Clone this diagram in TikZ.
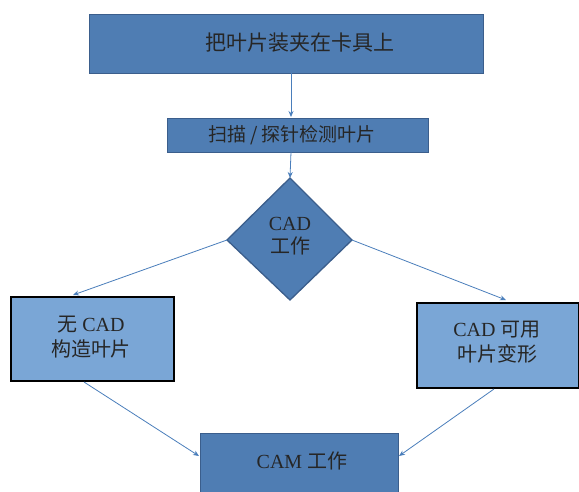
\documentclass[tikz,border=0pt]{standalone}
\usepackage{fontspec}
\setmainfont{Liberation Serif}
\newfontfamily\cjk{Noto Sans CJK SC}
\usetikzlibrary{arrows.meta}
\definecolor{darkfill}{HTML}{4F7DB3}
\definecolor{darkline}{HTML}{3B5E8C}
\definecolor{lightfill}{HTML}{7AA6D6}
\definecolor{txt}{HTML}{262626}
\definecolor{arr}{HTML}{4A7EBB}
\begin{document}
\begin{tikzpicture}[x=1pt,y=-1pt,
  darkbox/.style={draw=darkline,line width=1.3pt,fill=darkfill,text=txt,inner sep=0pt},
  lightbox/.style={draw=black,line width=2pt,fill=lightfill,text=txt,inner sep=0pt},
  conn/.style={draw=arr,line width=0.8pt,-{Stealth[length=6pt,width=5pt]}},
  big/.style={font=\fontsize{20}{25}\selectfont}]
\useasboundingbox (0,0) rectangle (579,491);
\clip (0,0) rectangle (579,491);
\node[darkbox,minimum width=394pt,minimum height=59pt,anchor=north west] (a) at (89,14) {};
\node[font=\fontsize{21}{25}\selectfont,text=txt] at (300,43) {\cjk 把叶片装夹在卡具上};
\node[darkbox,minimum width=261pt,minimum height=34pt,anchor=north west] (b) at (167,118) {};
\node[font=\fontsize{19}{22}\selectfont,text=txt] at (292,135) {\cjk 扫描 / 探针检测叶片};
\draw[darkbox] (290,178) coordinate (ct) -- (352,240) coordinate (cr) -- (290,300) coordinate (cb) -- (227,240) coordinate (cl) -- cycle;
\node[big,align=center,text=txt] (c) at (290,236) {CAD\\[-2pt]{\cjk 工作}};
\node[lightbox,minimum width=163pt,minimum height=84pt,anchor=north west] (d) at (10,296) {};
\node[big,align=center,text=txt] at (91,337) {{\cjk 无} CAD\\{\cjk 构造叶片}};
\node[lightbox,minimum width=162pt,minimum height=85pt,anchor=north west] (e) at (416,302) {};
\node[big,align=center,text=txt] at (497,342) {CAD {\cjk 可用}\\{\cjk 叶片变形}};
\node[darkbox,minimum width=198pt,minimum height=80pt,anchor=north west] (f) at (200,433) {};
\node[big,text=txt] at (302,461) {CAM {\cjk 工作}};
\coordinate (ab) at (291,73);
\coordinate (bt) at (291,117);
\coordinate (bb) at (291,152);
\coordinate (dt) at (73,295);
\coordinate (et) at (506,300);
\coordinate (db) at (84,382);
\coordinate (eb) at (494,389);
\coordinate (fl) at (199,456);
\coordinate (fr) at (399,456);
\draw[conn] (ab) -- (bt);
\draw[conn] (bb) -- (ct);
\draw[conn] (cl) -- (dt);
\draw[conn] (cr) -- (et);
\draw[conn] (db) -- (fl);
\draw[conn] (eb) -- (fr);
\end{tikzpicture}
\end{document}
